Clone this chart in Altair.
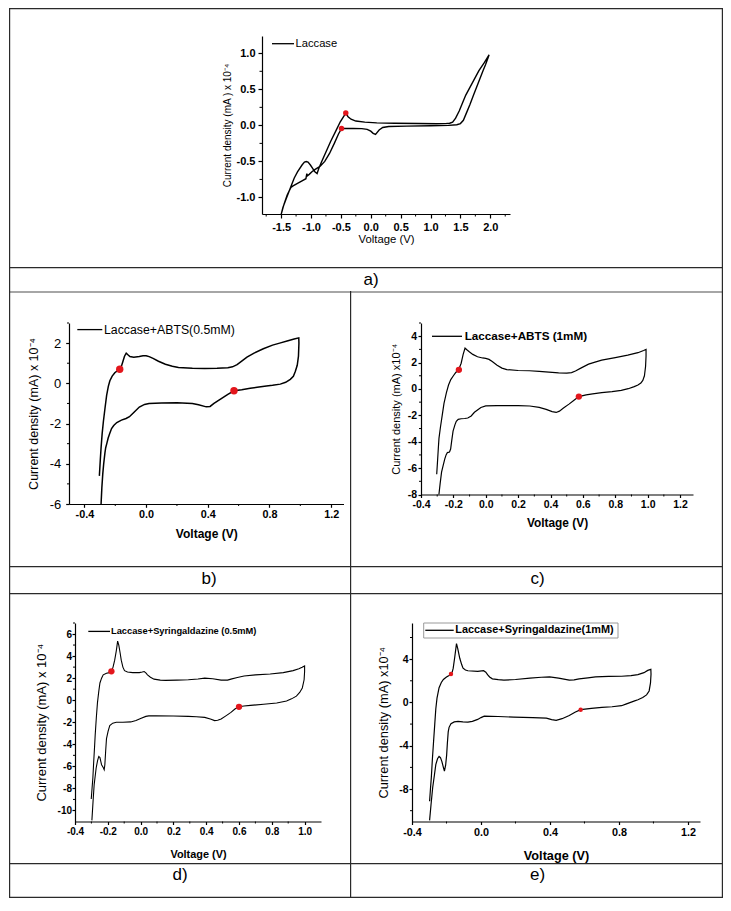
import altair as alt
import pandas as pd

# ------------------------------------------------------------------ data
# a) Laccase
A_CURVE = [(-0.418, 0.17), (-0.38, 0.12), (-0.33, 0.085), (-0.25, 0.06), (-0.1, 0.045), (0.1, 0.035),
           (0.4, 0.03), (0.8, 0.025), (1.1, 0.022), (1.25, 0.024), (1.32, 0.03), (1.37, 0.045), (1.42, 0.1),
           (1.48, 0.2), (1.54, 0.32), (1.59, 0.42), (1.7, 0.59), (1.81, 0.76), (1.9, 0.87), (1.98, 0.98),
           (1.96, 0.93), (1.92, 0.84), (1.88, 0.76), (1.8, 0.59), (1.72, 0.42), (1.66, 0.29), (1.6, 0.17),
           (1.55, 0.07), (1.5, 0.025), (1.44, 0.008), (1.3, 0.0), (1.0, -0.005), (0.6, -0.01), (0.3, -0.015),
           (0.2, -0.03), (0.14, -0.065), (0.08, -0.125), (0.04, -0.11), (0.0, -0.08), (-0.06, -0.055),
           (-0.15, -0.045), (-0.3, -0.042), (-0.489, -0.044),
           (-0.54, -0.12), (-0.61, -0.25), (-0.69, -0.39), (-0.77, -0.5), (-0.85, -0.57), (-0.93, -0.61),
           (-0.98, -0.64), (-1.03, -0.68), (-1.06, -0.70), (-1.07, -0.67), (-1.085, -0.74), (-1.15, -0.77),
           (-1.226, -0.805), (-1.3, -0.84), (-1.336, -0.86), (-1.4, -0.97), (-1.45, -1.09), (-1.5, -1.237),
           (-1.47, -1.14), (-1.42, -1.03), (-1.336, -0.85), (-1.28, -0.73), (-1.226, -0.646), (-1.15, -0.55),
           (-1.11, -0.51), (-1.079, -0.502), (-1.05, -0.51), (-1.01, -0.55), (-0.97, -0.6), (-0.94, -0.64),
           (-0.898, -0.669), (-0.87, -0.6), (-0.83, -0.52), (-0.75, -0.37), (-0.67, -0.22), (-0.58, -0.07),
           (-0.51, 0.05), (-0.418, 0.17)]
A_DOTS = [(-0.418, 0.17), (-0.489, -0.044)]
A_XTICKS = [-1.5, -1.0, -0.5, 0.0, 0.5, 1.0, 1.5, 2.0]
A_XMINOR = [-1.75, -1.25, -0.75, -0.25, 0.25, 0.75, 1.25, 1.75, 2.25]
A_YTICKS = [-1.0, -0.5, 0.0, 0.5, 1.0]
A_YMINOR = [-0.75, -0.25, 0.25, 0.75]
A_XDOM = [-1.82, 2.33]
A_YDOM = [-1.23, 1.24]

# b) Laccase+ABTS(0.5mM)
B_CURVE = [(-0.303, -4.6), (-0.297, -3.8), (-0.292, -3.2), (-0.285, -2.5), (-0.277, -1.9), (-0.266, -1.2),
           (-0.256, -0.6), (-0.245, -0.15), (-0.235, 0.13), (-0.22, 0.36), (-0.203, 0.53), (-0.185, 0.63),
           (-0.171, 0.70), (-0.16, 0.85), (-0.15, 1.1), (-0.14, 1.35), (-0.129, 1.5), (-0.118, 1.42),
           (-0.105, 1.33), (-0.08, 1.3), (-0.044, 1.33), (-0.02, 1.37), (0.0, 1.37), (0.02, 1.33),
           (0.045, 1.24), (0.08, 1.1), (0.125, 0.95), (0.17, 0.85), (0.21, 0.79), (0.3, 0.75), (0.38, 0.74),
           (0.46, 0.75), (0.53, 0.78), (0.56, 0.82), (0.59, 0.93), (0.62, 1.1), (0.654, 1.3), (0.7, 1.5),
           (0.76, 1.72), (0.82, 1.9), (0.866, 2.0), (0.92, 2.12), (0.96, 2.2), (0.99, 2.26),
           (0.991, 2.0), (0.988, 1.35), (0.98, 0.9), (0.968, 0.6), (0.955, 0.35), (0.935, 0.2), (0.905, 0.05),
           (0.87, -0.04), (0.82, -0.1), (0.78, -0.13), (0.72, -0.2), (0.675, -0.25), (0.62, -0.32),
           (0.57, -0.37), (0.53, -0.55), (0.485, -0.77), (0.44, -1.0), (0.415, -1.15), (0.39, -1.17),
           (0.34, -1.07), (0.3, -1.0), (0.2, -0.97), (0.1, -0.98), (0.019, -1.0), (-0.01, -1.05),
           (-0.044, -1.18), (-0.08, -1.45), (-0.108, -1.66), (-0.13, -1.75), (-0.16, -1.83), (-0.19, -1.95),
           (-0.21, -2.1), (-0.224, -2.25), (-0.236, -2.5), (-0.246, -2.72), (-0.255, -3.0), (-0.262, -3.2),
           (-0.267, -3.46), (-0.275, -4.0), (-0.281, -4.5), (-0.287, -5.2), (-0.292, -6.0), (-0.296, -6.6)]
B_DOTS = [(-0.171, 0.70), (0.57, -0.37)]
B_XTICKS = [-0.4, 0.0, 0.4, 0.8, 1.2]
B_XMINOR = [-0.2, 0.2, 0.6, 1.0]
B_YTICKS = [-6, -4, -2, 0, 2]
B_YMINOR = [-5, -3, -1, 1, 3]
B_XDOM = [-0.5, 1.28]
B_YDOM = [-6, 3]

# c) Laccase+ABTS (1mM)
C_CURVE = [(-0.303, -6.47), (-0.298, -5.5), (-0.293, -4.5), (-0.289, -3.75), (-0.28, -2.9), (-0.269, -2.0),
           (-0.258, -1.1), (-0.243, -0.28), (-0.23, 0.3), (-0.216, 0.71), (-0.2, 1.0), (-0.185, 1.25),
           (-0.166, 1.5), (-0.152, 1.95), (-0.14, 2.6), (-0.128, 3.1), (-0.115, 2.95), (-0.1, 2.8),
           (-0.08, 2.62), (-0.051, 2.44), (-0.02, 2.35), (0.0, 2.32), (0.02, 2.24), (0.04, 2.08), (0.07, 1.8),
           (0.1, 1.58), (0.13, 1.47), (0.2, 1.4), (0.27, 1.38), (0.33, 1.34), (0.39, 1.28), (0.45, 1.22),
           (0.5, 1.2), (0.53, 1.24), (0.554, 1.36), (0.59, 1.6), (0.635, 1.88), (0.68, 2.05), (0.716, 2.18),
           (0.8, 2.37), (0.877, 2.56), (0.94, 2.75), (0.975, 2.92), (0.99, 3.0),
           (0.99, 2.5), (0.987, 1.7), (0.98, 1.0), (0.97, 0.65), (0.958, 0.45), (0.94, 0.3), (0.917, 0.18),
           (0.88, 0.02), (0.837, -0.11), (0.78, -0.2), (0.716, -0.28), (0.66, -0.37), (0.62, -0.45),
           (0.575, -0.58), (0.545, -0.85), (0.514, -1.15), (0.48, -1.45), (0.455, -1.68), (0.435, -1.78),
           (0.41, -1.72), (0.373, -1.55), (0.33, -1.4), (0.272, -1.29), (0.2, -1.27), (0.07, -1.27),
           (0.0, -1.28), (-0.03, -1.4), (-0.07, -1.77), (-0.09, -2.05), (-0.111, -2.2), (-0.13, -2.24),
           (-0.152, -2.26), (-0.17, -2.3), (-0.182, -2.45), (-0.19, -2.7), (-0.202, -3.2), (-0.21, -3.9),
           (-0.217, -4.55), (-0.224, -4.78), (-0.237, -4.82), (-0.245, -5.0), (-0.253, -5.3), (-0.263, -5.8),
           (-0.273, -6.3), (-0.282, -7.2), (-0.289, -7.96), (-0.292, -8.4)]
C_DOTS = [(-0.166, 1.45), (0.575, -0.58)]
C_XTICKS = [-0.4, -0.2, 0.0, 0.2, 0.4, 0.6, 0.8, 1.0, 1.2]
C_XMINOR = [-0.3, -0.1, 0.1, 0.3, 0.5, 0.7, 0.9, 1.1]
C_YTICKS = [-8, -6, -4, -2, 0, 2, 4]
C_YMINOR = [-7, -5, -3, -1, 1, 3, 5]
C_XDOM = [-0.4, 1.28]
C_YDOM = [-8, 5]

# d) Laccase+Syringaldazine (0.5mM)
D_CURVE = [(-0.301, -8.96), (-0.296, -8.0), (-0.291, -7.04), (-0.286, -5.6), (-0.281, -4.3), (-0.277, -3.19),
           (-0.27, -1.6), (-0.263, -0.22), (-0.255, 0.8), (-0.248, 1.56), (-0.238, 2.0), (-0.228, 2.3),
           (-0.208, 2.44), (-0.19, 2.5), (-0.178, 2.59), (-0.168, 3.0), (-0.158, 3.63), (-0.148, 4.5),
           (-0.14, 5.35), (-0.133, 5.0), (-0.125, 4.3), (-0.118, 3.63), (-0.108, 3.0), (-0.098, 2.68),
           (-0.08, 2.55), (-0.048, 2.5), (-0.008, 2.5), (0.01, 2.55), (0.022, 2.6), (0.032, 2.48),
           (0.042, 2.3), (0.06, 2.08), (0.082, 1.91), (0.12, 1.82), (0.152, 1.8), (0.22, 1.82), (0.291, 1.85),
           (0.35, 1.92), (0.391, 2.0), (0.44, 1.95), (0.491, 1.82), (0.53, 1.82), (0.551, 1.91), (0.59, 2.05),
           (0.631, 2.2), (0.7, 2.3), (0.79, 2.38), (0.87, 2.5), (0.93, 2.68), (0.965, 2.85), (0.985, 2.98),
           (1.0, 3.1),
           (1.0, 2.6), (0.997, 1.85), (0.986, 1.11), (0.97, 0.7), (0.95, 0.37), (0.92, 0.12), (0.89, -0.07),
           (0.83, -0.25), (0.75, -0.37), (0.67, -0.47), (0.63, -0.52), (0.6, -0.6), (0.575, -0.8),
           (0.551, -1.11), (0.52, -1.42), (0.491, -1.7), (0.47, -1.82), (0.451, -1.85), (0.43, -1.72),
           (0.391, -1.56), (0.34, -1.5), (0.291, -1.47), (0.2, -1.44), (0.092, -1.41), (0.05, -1.42),
           (0.032, -1.47), (0.0, -1.65), (-0.028, -1.85), (-0.06, -1.97), (-0.108, -2.0), (-0.148, -2.0),
           (-0.17, -2.08), (-0.188, -2.3), (-0.198, -2.8), (-0.208, -3.48), (-0.213, -4.6), (-0.218, -5.85),
           (-0.222, -6.3), (-0.228, -6.1), (-0.238, -5.85), (-0.248, -5.2), (-0.255, -5.1), (-0.262, -5.45),
           (-0.271, -6.15), (-0.277, -6.9), (-0.283, -7.63), (-0.29, -9.2), (-0.297, -10.9)]
D_DOTS = [(-0.178, 2.62), (0.6, -0.6)]
D_XTICKS = [-0.4, -0.2, 0.0, 0.2, 0.4, 0.6, 0.8, 1.0]
D_XMINOR = [-0.3, -0.1, 0.1, 0.3, 0.5, 0.7, 0.9]
D_YTICKS = [-10, -8, -6, -4, -2, 0, 2, 4, 6]
D_YMINOR = [-9, -7, -5, -3, -1, 1, 3, 5, 7]
D_XDOM = [-0.4, 1.1]
D_YDOM = [-11, 7]

# e) Laccase+Syringaldazine(1mM)
E_CURVE = [(-0.298, -9.13), (-0.293, -8.0), (-0.288, -6.95), (-0.282, -5.3), (-0.275, -3.63), (-0.268, -2.0),
           (-0.262, -0.6), (-0.255, 0.4), (-0.243, 1.36), (-0.23, 1.85), (-0.218, 2.12), (-0.2, 2.35),
           (-0.185, 2.5), (-0.174, 2.63), (-0.166, 2.85), (-0.161, 3.17), (-0.152, 4.2), (-0.142, 5.44),
           (-0.135, 5.0), (-0.123, 4.08), (-0.112, 3.5), (-0.104, 3.17), (-0.09, 3.0), (-0.076, 2.93),
           (-0.019, 2.87), (0.015, 2.93), (0.028, 2.8), (0.038, 2.57), (0.05, 2.35), (0.066, 2.18),
           (0.1, 2.1), (0.133, 2.06), (0.2, 2.12), (0.284, 2.24), (0.35, 2.33), (0.398, 2.36), (0.45, 2.25),
           (0.512, 2.06), (0.54, 2.08), (0.569, 2.18), (0.62, 2.27), (0.664, 2.36), (0.74, 2.4),
           (0.815, 2.42), (0.87, 2.48), (0.91, 2.57), (0.945, 2.75), (0.967, 2.96), (0.985, 3.05),
           (0.986, 2.6), (0.983, 1.81), (0.975, 1.06), (0.96, 0.7), (0.938, 0.45), (0.91, 0.25),
           (0.891, 0.15), (0.84, -0.15), (0.815, -0.3), (0.76, -0.4), (0.701, -0.45), (0.64, -0.55),
           (0.578, -0.67), (0.545, -0.9), (0.512, -1.21), (0.47, -1.5), (0.436, -1.66), (0.41, -1.58),
           (0.379, -1.45), (0.3, -1.4), (0.19, -1.36), (0.1, -1.3), (0.019, -1.27), (0.0, -1.4),
           (-0.019, -1.57), (-0.05, -1.75), (-0.076, -1.81), (-0.105, -1.8), (-0.133, -1.75),
           (-0.155, -1.8), (-0.174, -1.96), (-0.185, -2.3), (-0.19, -2.72), (-0.195, -3.8), (-0.199, -4.84),
           (-0.205, -5.8), (-0.212, -6.35), (-0.218, -6.0), (-0.227, -5.44), (-0.235, -5.1), (-0.243, -4.99),
           (-0.252, -5.2), (-0.262, -5.74), (-0.27, -6.7), (-0.28, -7.86), (-0.29, -9.5), (-0.298, -10.9)]
E_DOTS = [(-0.174, 2.63), (0.578, -0.665)]
E_XTICKS = [-0.4, 0.0, 0.4, 0.8, 1.2]
E_XMINOR = [-0.2, 0.2, 0.6, 1.0]
E_YTICKS = [-8, -4, 0, 4]
E_YMINOR = [-10, -6, -2, 2, 6]
E_XDOM = [-0.4, 1.27]
E_YDOM = [-11, 7.34]

# ------------------------------------------------------------------ layout / style
FONT = "Liberation Sans, Arial, sans-serif"
NARROW = "Liberation Sans Narrow, Arial Narrow, Liberation Sans, Arial, sans-serif"
RED = "#e3161c"
FRAME = "#2a2a2a"
GRAYLINE = "#a6a6a6"
LW = 1.2
MINUS = "replace(datum.label, '\u2212', '-')"

# table geometry (pixels, table origin top-left)
TX0, TXD, TX1 = 0, 341, 714
TY0, TYA, TYAL, TYB, TYBL, TYD, TYDL = 0, 259, 283, 558, 585, 855, 890

ONE = pd.DataFrame({"k": [0]})


def spacer():
    return alt.Chart(ONE).mark_rule(opacity=0, strokeWidth=0).encode(
        x=alt.value(0), x2=alt.value(0), y=alt.value(0), y2=alt.value(0)).properties(width=1, height=1)


def make_panel(curve, dots, xdom, ydom, xt, xm, yt, ym, xfmt, yfmt, box, cell, lline, right, bottom,
               label, lpos, legend, st):
    ox, oy, w, h = box
    ox = ox + 1  # the 1px spacer column at the left of every row
    L, T, R, B = cell
    L, R = L + 1, R + 1
    layers = []

    def bar(x1, x2, y1, y2, color):
        return alt.Chart(ONE).mark_rect(color=color).encode(
            x=alt.value(x1 - ox), x2=alt.value(x2 - ox),
            y=alt.value(y1 - oy), y2=alt.value(y2 - oy))

    # table frame of this cell
    if T == TYAL:
        layers.append(bar(L, R, T, T + 2.0, GRAYLINE))
    else:
        layers.append(bar(L, R, T, T + LW, FRAME))
    layers.append(bar(L, L + LW, T, B, FRAME))
    layers.append(bar(L, R, lline, lline + LW, FRAME))
    if right:
        layers.append(bar(R - LW, R, T, B, FRAME))
    if bottom:
        layers.append(bar(L, R, B - LW, B, FRAME))

    # caption letter
    layers.append(alt.Chart(ONE).mark_text(text=label, font=NARROW, fontSize=17, align="center",
                                           baseline="middle", color="black").encode(
        x=alt.value(lpos[0] + 1 - ox), y=alt.value(lpos[1] - oy)))

    xscale = alt.Scale(domain=xdom, nice=False, zero=False)
    yscale = alt.Scale(domain=ydom, nice=False, zero=False)

    xaxis = alt.Axis(values=xt, format=xfmt, labelExpr=MINUS, title="Voltage (V)",
                     labelFont=FONT, labelFontSize=st["xl"], labelFontWeight="bold", labelColor="black",
                     labelPadding=st["xlp"], labelFlush=False, labelOverlap=False,
                     titleFont=FONT, titleFontSize=st["xt"], titleFontWeight=st["xtw"], titleColor="black",
                     titlePadding=st["xtp"], domainColor="black", domainWidth=1.2, tickColor="black",
                     tickWidth=1.2, tickSize=st["tick"], grid=False)
    yaxis = alt.Axis(values=yt, format=yfmt, labelExpr=MINUS, title=st["ytitle"],
                     labelFont=FONT, labelFontSize=st["yl"], labelFontWeight=st["ylw"], labelColor="black",
                     labelPadding=st["ylp"], labelFlush=False, labelOverlap=False,
                     titleFont=FONT, titleFontSize=st["yt"], titleFontWeight="normal", titleColor="black",
                     titlePadding=st["ytp"], domainColor="black", domainWidth=1.2, tickColor="black",
                     tickWidth=1.2, tickSize=st["tick"], grid=False)

    X = alt.X("V:Q", scale=xscale, axis=xaxis)
    Y = alt.Y("I:Q", scale=yscale, axis=yaxis)

    # the CV curve
    cdf = pd.DataFrame(curve, columns=["V", "I"])
    cdf["i"] = range(len(cdf))
    layers.append(alt.Chart(cdf).mark_line(color="black", strokeWidth=st["lw"], clip=True).encode(
        x=X, y=Y, order=alt.Order("i:Q")))

    # minor ticks
    layers.append(alt.Chart(pd.DataFrame({"V": xm})).mark_rule(color="black", strokeWidth=1).encode(
        x=X, y=alt.value(h), y2=alt.value(h + st["minor"])))
    layers.append(alt.Chart(pd.DataFrame({"I": ym})).mark_rule(color="black", strokeWidth=1).encode(
        y=Y, x=alt.value(0), x2=alt.value(-st["minor"])))

    # legend (drawn inside the plot)
    if legend.get("box"):
        bx1, bx2, by1, by2 = legend["box"]
        layers.append(alt.Chart(ONE).mark_rect(filled=False, color="#9a9a9a", strokeWidth=1).encode(
            x=alt.value(bx1), x2=alt.value(bx2), y=alt.value(by1), y2=alt.value(by2)))
    layers.append(alt.Chart(ONE).mark_rule(color="black", strokeWidth=1.3).encode(
        x=alt.value(legend["x1"]), x2=alt.value(legend["x2"]), y=alt.value(legend["y"])))
    layers.append(alt.Chart(ONE).mark_text(text=legend["text"], font=FONT, fontSize=legend["size"],
                                           fontWeight=legend["weight"], align="left", baseline="middle",
                                           color="black").encode(
        x=alt.value(legend["tx"]), y=alt.value(legend["y"])))

    # red markers
    ddf = pd.DataFrame(dots, columns=["V", "I"])
    layers.append(alt.Chart(ddf).mark_circle(color=RED, size=st["dot"], opacity=1).encode(x=X, y=Y))

    return alt.layer(*layers).properties(width=w, height=h)


pa = make_panel(A_CURVE, A_DOTS, A_XDOM, A_YDOM, A_XTICKS, A_XMINOR, A_YTICKS, A_YMINOR, ".1f", ".1f",
                (253, 28, 248, 178), (TX0, TY0, TX1, TYAL), TYA, True, False,
                "a)", (362, 272),
                dict(x1=10, x2=32, y=7.7, tx=33.5, text="Laccase", size=11.2, weight="normal"),
                dict(xl=11, xlp=3, xt=11.3, xtw="normal", xtp=1, yl=11, ylw="bold", ylp=3,
                     yt=10, ytp=4, tick=4, minor=2.5, lw=1.4, dot=30,
                     ytitle="Current density (mA ) x 10\u207b\u2074"))

pb = make_panel(B_CURVE, B_DOTS, B_XDOM, B_YDOM, B_XTICKS, B_XMINOR, B_YTICKS, B_YMINOR, ".1f", "d",
                (60, 315, 274.5, 181), (TX0, TYAL, TXD, TYBL), TYB, False, False,
                "b)", (200, 571),
                dict(x1=8.3, x2=33.3, y=6.6, tx=35, text="Laccase+ABTS(0.5mM)", size=12.3, weight="normal"),
                dict(xl=10.8, xlp=1, xt=12, xtw="bold", xtp=9, yl=13, ylw="normal", ylp=5,
                     yt=12.5, ytp=9, tick=3.3, minor=2, lw=1.5, dot=55,
                     ytitle="Current density (mA) x 10\u207b\u2074"))

pc = make_panel(C_CURVE, C_DOTS, C_XDOM, C_YDOM, C_XTICKS, C_XMINOR, C_YTICKS, C_YMINOR, ".1f", "d",
                (412, 315, 272, 171.5), (TXD, TYAL, TX1, TYBL), TYB, True, False,
                "c)", (528.5, 571),
                dict(x1=11, x2=41, y=13.3, tx=43.7, text="Laccase+ABTS (1mM)", size=11.7, weight="bold"),
                dict(xl=10.5, xlp=2, xt=11.9, xtw="bold", xtp=7, yl=10.5, ylw="bold", ylp=1.5,
                     yt=11, ytp=6, tick=3, minor=2, lw=1.2, dot=40,
                     ytitle="Current density (mA) x10\u207b\u2074"))

pd_ = make_panel(D_CURVE, D_DOTS, D_XDOM, D_YDOM, D_XTICKS, D_XMINOR, D_YTICKS, D_YMINOR, ".1f", "d",
                 (66, 615, 246, 198.5), (TX0, TYBL, TXD, TYDL), TYD, False, True,
                 "d)", (171, 867),
                 dict(x1=13.3, x2=35, y=8.4, tx=36, text="Laccase+Syringaldazine (0.5mM)", size=9.3,
                      weight="bold"),
                 dict(xl=10, xlp=2, xt=10.9, xtw="bold", xtp=12, yl=10, ylw="bold", ylp=0.5,
                      yt=13, ytp=9, tick=3, minor=2, lw=1.1, dot=40,
                      ytitle="Current density (mA) x 10\u207b\u2074"))

pe = make_panel(E_CURVE, E_DOTS, E_XDOM, E_YDOM, E_XTICKS, E_XMINOR, E_YTICKS, E_YMINOR, ".1f", "d",
                (403, 615, 288, 198.5), (TXD, TYBL, TX1, TYDL), TYD, True, True,
                "e)", (528.5, 867),
                dict(x1=13.3, x2=41.7, y=7.3, tx=43.3, text="Laccase+Syringaldazine(1mM)", size=10.9,
                     weight="bold", box=(11.7, 206, 0, 15)),
                dict(xl=10.8, xlp=2, xt=12.7, xtw="bold", xtp=12, yl=10.5, ylw="bold", ylp=1,
                     yt=12.8, ytp=8.5, tick=3, minor=2, lw=1.2, dot=20,
                     ytitle="Current density (mA) x10\u207b\u2074"))

chart = alt.vconcat(
    alt.hconcat(spacer(), pa, spacing=0),
    alt.hconcat(spacer(), pb, pc, spacing=0),
    alt.hconcat(spacer(), pd_, pe, spacing=0),
    spacing=0,
).properties(padding=0).configure_view(stroke=None).configure_axis(labelOverlap=False)

chart.save("out.html", embed_options={"renderer": "svg", "actions": False})
